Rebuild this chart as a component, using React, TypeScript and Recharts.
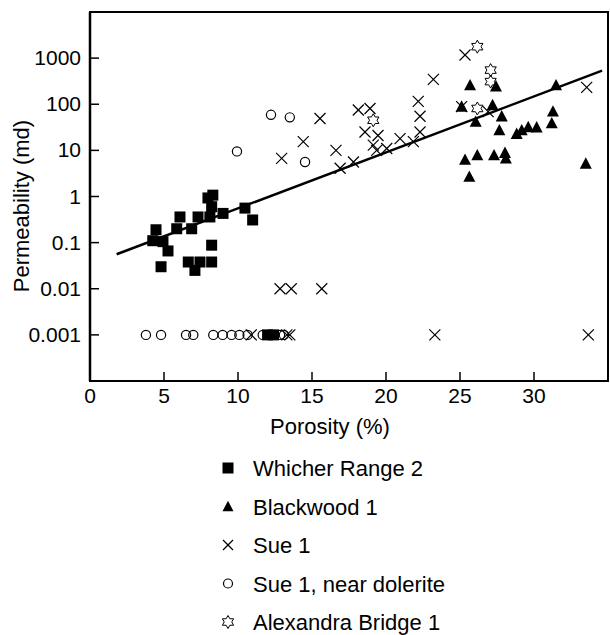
import { ScatterChart, Scatter, XAxis, YAxis, ReferenceArea } from "recharts"

// Whicher Range 2 (filled squares)
const whicherPorosity = [4.46, 4.24, 4.93, 5.27, 4.8, 6.08, 5.86, 6.87, 7.3, 7.97, 8.3, 8.22, 8.1, 8.99, 8.22, 6.64, 7.43, 8.22, 7.09, 10.47, 10.99, 12.0, 12.4]
const whicherPerm = [0.19, 0.11, 0.105, 0.066, 0.03, 0.36, 0.2, 0.2, 0.36, 0.93, 1.07, 0.6, 0.36, 0.43, 0.088, 0.038, 0.038, 0.038, 0.025, 0.56, 0.31, 0.001, 0.001]

// Blackwood 1 (filled triangles)
const blackwoodPorosity = [25.68, 27.43, 25.11, 27.2, 26.06, 27.82, 27.66, 28.83, 29.17, 29.61, 30.18, 25.34, 26.17, 27.3, 28.04, 28.1, 25.63, 31.49, 31.28, 31.2, 33.5]
const blackwoodPerm = [260, 246, 89, 96, 42, 55, 27.5, 23, 27.5, 32, 31.6, 6.3, 7.9, 7.9, 8.9, 6.7, 2.7, 260, 70, 39, 5.2]

// Sue 1 (crosses)
const suePorosity = [15.54, 18.13, 18.92, 14.41, 12.95, 16.62, 16.9, 17.8, 18.58, 19.46, 19.14, 19.37, 20.05, 20.95, 21.85, 22.18, 22.3, 22.3, 25.34, 23.2, 25.11, 26.9, 33.56, 12.84, 13.6, 15.66, 10.9, 13.3, 13.5, 23.3, 33.67]
const suePerm = [49, 75, 81, 15.5, 6.7, 10, 4.1, 5.6, 25, 21, 13, 10, 11, 18, 15.5, 115, 55, 25, 1170, 347, 89, 69, 232, 0.01, 0.01, 0.01, 0.001, 0.001, 0.001, 0.001, 0.001]

// Sue 1, near dolerite (open circles)
const dolPorosity = [12.23, 13.5, 14.53, 9.93, 3.78, 4.8, 6.49, 6.98, 8.33, 8.96, 9.57, 10.09, 10.65, 11.67, 12.84, 13.1]
const dolPerm = [59, 52, 5.6, 9.5, 0.001, 0.001, 0.001, 0.001, 0.001, 0.001, 0.001, 0.001, 0.001, 0.001, 0.001, 0.001]

// Alexandra Bridge 1 (open stars)
const alexPorosity = [19.14, 26.17, 27.07, 27.07, 26.17]
const alexPerm = [45, 1770, 550, 310, 81]

// fitted trend line end points
const trendPorosity = [1.8, 34.6]
const trendPerm = [0.056, 535]

const xTicks = [0, 5, 10, 15, 20, 25, 30]
const yTicks = [0.001, 0.01, 0.1, 1, 10, 100, 1000]

const legendLabels = ["Whicher Range 2", "Blackwood 1", "Sue 1", "Sue 1, near dolerite", "Alexandra Bridge 1"]

const toPoints = (xs: number[], ys: number[]) => xs.map((x, i) => ({ x, y: ys[i] }))

const FONT = "'Liberation Sans', Arial, Helvetica, sans-serif"

function Square({ cx, cy, s = 11 }: any) {
  return <rect x={cx - s / 2} y={cy - s / 2} width={s} height={s} fill="#000" />
}
function Triangle({ cx, cy, s = 12 }: any) {
  const h = s * 0.87
  return <polygon points={`${cx},${cy - h / 2 - 1} ${cx - s / 2},${cy + h / 2} ${cx + s / 2},${cy + h / 2}`} fill="#000" />
}
function Cross({ cx, cy, r = 5.5 }: any) {
  return (
    <g stroke="#000" strokeWidth={1.2}>
      <line x1={cx - r} y1={cy - r} x2={cx + r} y2={cy + r} />
      <line x1={cx - r} y1={cy + r} x2={cx + r} y2={cy - r} />
    </g>
  )
}
function Ring({ cx, cy, r = 4.6 }: any) {
  return <circle cx={cx} cy={cy} r={r} fill="none" stroke="#000" strokeWidth={1.2} />
}
function Star({ cx, cy, r = 6.5 }: any) {
  const pts: string[] = []
  for (let i = 0; i < 12; i++) {
    const rad = i % 2 === 0 ? r : r * 0.577
    const a = (Math.PI / 6) * i - Math.PI / 2
    pts.push(`${cx + rad * Math.cos(a)},${cy + rad * Math.sin(a)}`)
  }
  return <polygon points={pts.join(" ")} fill="none" stroke="#000" strokeWidth={1} />
}

function XTick({ x, y, payload }: any) {
  return (
    <g>
      <line x1={x} x2={x} y1={y} y2={y - 9} stroke="#000" strokeWidth={1.5} />
      <text x={x} y={y + 22} textAnchor="middle" fontSize={21} fontFamily={FONT} fill="#000">{payload.value}</text>
    </g>
  )
}
function YTick({ x, y, payload }: any) {
  return (
    <g>
      <line x1={x} x2={x + 9} y1={y} y2={y} stroke="#000" strokeWidth={1.5} />
      <text x={x - 9} y={y + 7} textAnchor="end" fontSize={21} fontFamily={FONT} fill="#000">{String(payload.value)}</text>
    </g>
  )
}

const legendMarkers = [
  (cx: number, cy: number) => <Square cx={cx} cy={cy} s={11} />,
  (cx: number, cy: number) => <Triangle cx={cx} cy={cy} s={11} />,
  (cx: number, cy: number) => <Cross cx={cx} cy={cy} r={5} />,
  (cx: number, cy: number) => <Ring cx={cx} cy={cy} r={4.5} />,
  (cx: number, cy: number) => <Star cx={cx} cy={cy} r={6.5} />,
]

export default function App() {
  return (
    <div style={{ position: "relative", width: 610, height: 635, background: "#fff" }}>
      <style>{`body{margin:0}`}</style>
      <ScatterChart width={610} height={635} margin={{ top: 12, right: 2, bottom: 224, left: 10 }}>
        <XAxis
          dataKey="x"
          type="number"
          domain={[0, 35]}
          ticks={xTicks}
          height={30}
          tickSize={0}
          tickMargin={0}
          tickLine={false}
          axisLine={{ stroke: "#000", strokeWidth: 2 }}
          tick={<XTick />}
          allowDataOverflow
        />
        <YAxis
          dataKey="y"
          type="number"
          scale="log"
          domain={[0.0001, 10000]}
          ticks={yTicks}
          width={80}
          tickSize={0}
          tickMargin={0}
          tickLine={false}
          axisLine={{ stroke: "#000", strokeWidth: 2.5 }}
          tick={<YTick />}
          allowDataOverflow
        />
        <ReferenceArea x1={0} x2={35} y1={0.0001} y2={10000} fill="none" stroke="#000" strokeWidth={2} />
        <Scatter data={toPoints(whicherPorosity, whicherPerm)} shape={(p: any) => <Square cx={p.cx} cy={p.cy} />} isAnimationActive={false} />
        <Scatter data={toPoints(blackwoodPorosity, blackwoodPerm)} shape={(p: any) => <Triangle cx={p.cx} cy={p.cy} />} isAnimationActive={false} />
        <Scatter data={toPoints(suePorosity, suePerm)} shape={(p: any) => <Cross cx={p.cx} cy={p.cy} />} isAnimationActive={false} />
        <Scatter data={toPoints(dolPorosity, dolPerm)} shape={(p: any) => <Ring cx={p.cx} cy={p.cy} />} isAnimationActive={false} />
        <Scatter data={toPoints(alexPorosity, alexPerm)} shape={(p: any) => <Star cx={p.cx} cy={p.cy} />} isAnimationActive={false} />
        <Scatter
          data={toPoints(trendPorosity, trendPerm)}
          line={{ stroke: "#000", strokeWidth: 2.5 }}
          shape={() => <g />}
          isAnimationActive={false}
        />
      </ScatterChart>
      <svg width={610} height={635} style={{ position: "absolute", left: 0, top: 0, pointerEvents: "none" }}>
        <text x={330} y={434} textAnchor="middle" fontSize={22} fontFamily={FONT} fill="#000">Porosity (%)</text>
        <text x={29} y={206} textAnchor="middle" fontSize={22} fontFamily={FONT} fill="#000" transform="rotate(-90 29 206)">Permeability (md)</text>
        {legendLabels.map((label, i) => {
          const cy = 468 + i * 38.5
          return (
            <g key={label}>
              {legendMarkers[i](228, cy)}
              <text x={253} y={cy + 8} fontSize={22} fontFamily={FONT} fill="#000">{label}</text>
            </g>
          )
        })}
      </svg>
    </div>
  )
}
